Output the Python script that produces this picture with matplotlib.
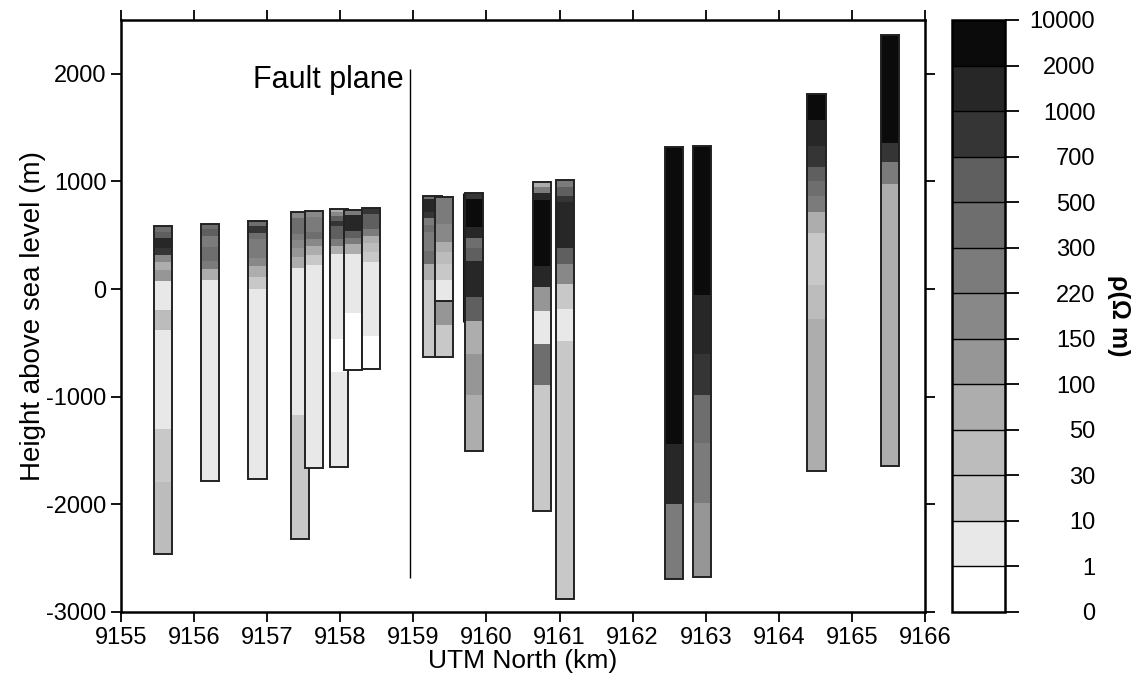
import matplotlib
matplotlib.use("Agg")
import matplotlib.pyplot as plt
import numpy as np
from matplotlib.colors import ListedColormap, BoundaryNorm
import matplotlib.colorbar as mcolorbar

plt.rcParams['font.family'] = ['Liberation Sans', 'DejaVu Sans']

# ---- colour scale (resistivity, ohm m) ----
rho_levels = [0, 1, 10, 30, 50, 100, 150, 220, 300, 500, 700, 1000, 2000, 10000]
rho_labels = ['0', '1', '10', '30', '50', '100', '150', '220', '300', '500', '700', '1000', '2000', '10000']
gray_colors = ['#ffffff', '#e8e8e8', '#c8c8c8', '#bcbcbc', '#adadad', '#969696', '#888888',
               '#7b7b7b', '#6e6e6e', '#5f5f5f', '#353535', '#272727', '#0b0b0b']

# ---- stations: UTM north (km), layer boundaries (m asl, top->bottom), layer resistivity ----
station_x = [9155.573, 9156.222, 9156.867, 9157.449, 9157.640, 9157.978, 9158.170, 9158.423,
             9159.262, 9159.416, 9159.416, 9159.832, 9160.763, 9161.074, 9162.568, 9162.948,
             9164.514, 9165.522]

station_bounds = [
    [587, 526, 479, 386, 318, 252, 175, 75, -195, -384, -1299, -1796, -2460],
    [603, 557, 494, 392, 262, 184, 88, -1787],
    [628, 588, 520, 464, 293, 215, 113, -2, -1762],
    [712, 659, 510, 457, 380, 302, 200, -1172, -2323],
    [727, 666, 526, 464, 401, 315, 224, -1662],
    [743, 712, 681, 634, 582, 470, 401, 324, -461, -768, -1650],
    [737, 687, 541, 479, 417, 330, -219, -756],
    [752, 697, 557, 494, 424, 340, 252, -437, -747],
    [867, 836, 712, 656, 597, 526, 355, 237, 82, -632],
    [-111, -334, -632],
    [858, 603, 442, 340, 231, 82, -111],
    [889, 836, 573, 479, 386, 262, -70, -297, -601, -980, -1501],
    [992, 945, 889, 830, 215, 20, -204, -514, -893, -2062],
    [1013, 945, 867, 805, 380, 237, 45, -188, -483, -2882],
    [1317, -1439, -1997, -2696],
    [1333, -55, -607, -986, -1429, -1988, -2677],
    [1814, 1575, 1333, 1131, 1001, 861, 712, 517, 35, -281, -1687],
    [2363, 1357, 1178, 976, -1647],
]

station_rho = [
    [400, 600, 1500, 850, 180, 70, 120, 5, 40, 5, 20, 40],
    [400, 600, 250, 400, 250, 70, 5],
    [400, 850, 400, 250, 180, 70, 20, 5],
    [180, 400, 250, 180, 120, 70, 5, 20],
    [180, 250, 400, 180, 70, 20, 5],
    [70, 180, 600, 850, 600, 250, 70, 5, 0.5, 5],
    [250, 1500, 600, 250, 70, 5, 0.5],
    [850, 600, 250, 70, 40, 20, 5, 0.5],
    [400, 1500, 850, 250, 400, 250, 400, 70, 20],
    [120, 20],
    [250, 180, 70, 40, 20, 5],
    [850, 5000, 1500, 400, 600, 1500, 600, 70, 120, 70],
    [70, 250, 1500, 5000, 1500, 120, 5, 400, 20],
    [250, 600, 850, 1500, 600, 180, 20, 5, 20],
    [5000, 1500, 250],
    [5000, 1500, 850, 400, 250, 120],
    [5000, 1500, 850, 600, 400, 250, 70, 20, 40, 70],
    [5000, 850, 250, 70],
]

# hidden edge of a station behind 9159.83
shadow_x = [9159.69]
shadow_top = [889]
shadow_bottom = [-306]

fault_x = [9158.95]
fault_top = [2046]
fault_bottom = [-2685]

column_width = 0.25

cmap = ListedColormap(gray_colors)
norm = BoundaryNorm(rho_levels, cmap.N)

fig = plt.figure(figsize=(11.31, 6.84), dpi=100)
ax = fig.add_axes([121 / 1131, 1 - 612 / 684, (925 - 121) / 1131, (612 - 20) / 684])

ax.vlines(shadow_x, shadow_bottom, shadow_top, color='#111111', linewidth=2.2, zorder=1)

for i, (x, bnds, rhos) in enumerate(zip(station_x, station_bounds, station_rho)):
    z = 2 + i
    tops = np.array(bnds[:-1], dtype=float)
    bots = np.array(bnds[1:], dtype=float)
    cols = [cmap(norm(r)) for r in rhos]
    ax.bar([x] * len(rhos), tops - bots, bottom=bots, width=column_width,
           color=cols, edgecolor='none', linewidth=0, zorder=z)
    ax.bar([x], [bnds[0] - bnds[-1]], bottom=[bnds[-1]], width=column_width,
           fill=False, edgecolor='#222222', linewidth=1.4, zorder=z + 0.5)

ax.vlines(fault_x, fault_bottom, fault_top, color='black', linewidth=1.0, zorder=30)
ax.text(9158.87, 1867, 'Fault plane', ha='right', va='baseline', fontsize=22, zorder=31)

ax.set_xlim(9155, 9166)
ax.set_ylim(-3000, 2500)
ax.set_xticks(np.arange(9155, 9167, 1))
ax.set_xticklabels([str(v) for v in range(9155, 9167)])
ax.set_yticks(np.arange(-3000, 2001, 1000))
ax.set_yticklabels([str(v) for v in range(-3000, 2001, 1000)])
ax.tick_params(axis='both', direction='out', length=7, width=1.3, labelsize=17,
               top=True, right=True, labeltop=False, labelright=False)
for s in ax.spines.values():
    s.set_linewidth(1.8)
ax.set_xlabel('UTM North (km)', fontsize=19, labelpad=0)
ax.set_ylabel('Height above sea level (m)', fontsize=20, labelpad=0)

# colour bar
cax = fig.add_axes([952 / 1131, 1 - 612 / 684, (1005 - 952) / 1131, (612 - 20) / 684])
cb = mcolorbar.ColorbarBase(cax, cmap=cmap, norm=norm, boundaries=rho_levels,
                            spacing='uniform', orientation='vertical', drawedges=True,
                            ticks=rho_levels)
cb.outline.set_linewidth(1.8)
cb.dividers.set_linewidth(1.0)
cb.dividers.set_color('black')
cax.set_yticklabels(rho_labels, ha='right')
cax.tick_params(axis='y', direction='out', length=10, width=1.3, labelsize=17, pad=55)
cax.minorticks_off()
cax.set_ylabel('ρ(Ω m)', fontsize=18, fontweight='bold', rotation=-90, labelpad=26)

fig.savefig('out.png', dpi=100)
